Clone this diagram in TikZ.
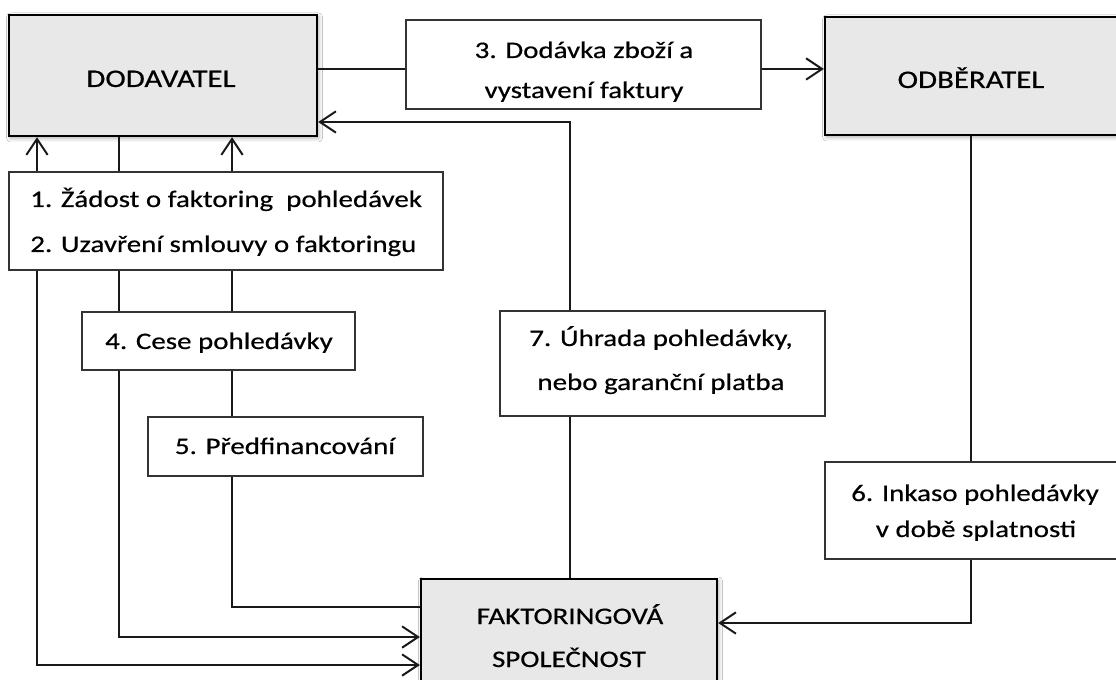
\documentclass[tikz,border=0pt]{standalone}
\usepackage{fontspec}
\setmainfont{Carlito}[FakeStretch=1.22,FakeBold=0.5]
\usetikzlibrary{arrows.meta,fit,shadows.blur}
\begin{document}
\begin{tikzpicture}[x=0.75pt,y=-0.75pt]
\tikzset{
  lbl/.style={draw=black!80, line width=1pt, fill=white, inner sep=0pt},
  party/.style={lbl, draw=black, fill=black!9, line width=1.7pt,
    blur shadow={shadow xshift=1.2pt, shadow yshift=-1.5pt, shadow blur radius=3pt, shadow opacity=35}},
  txt/.style={inner sep=0pt, anchor=base, font=\fontsize{17.8}{20}\selectfont},
  txtl/.style={txt, anchor=base west},
  head/.style={txt, font=\fontsize{19}{22}\selectfont},
  conn/.style={line width=1.5pt, draw=black!90},
  arr/.style={conn, -{Straight Barb[length=12pt,width=16pt]}},
}
\fill[white] (0,0) rectangle (1116,680);
\useasboundingbox (0,0) rectangle (1116,680);

% level coordinates
\coordinate (X37) at (37,0);
\coordinate (X119) at (119,0);
\coordinate (X232) at (232,0);
\coordinate (X570) at (570,0);
\coordinate (X971) at (971,0);
\coordinate (Y69) at (0,69);
\coordinate (Y122) at (0,122);
\coordinate (Y607) at (0,607);
\coordinate (Y623) at (0,623);
\coordinate (Y637) at (0,637);
\coordinate (Y665) at (0,665);

% boxes
\node[party, fit={(9,15) (317,136)}] (dod) {};
\node[party, fit={(825,17) (1121,135)}] (odb) {};
\node[party, fit={(421,579) (717,694)}] (fak) {};
\node[lbl, fit={(406,20) (761,109)}] (b3) {};
\node[lbl, fit={(9,172) (443,270)}] (b12) {};
\node[lbl, fit={(82,312) (355,370)}] (b4) {};
\node[lbl, fit={(148,417) (423,476)}] (b5) {};
\node[lbl, fit={(500,311) (825,416)}] (b7) {};
\node[lbl, fit={(825,462) (1121,559)}] (b6) {};

% texts
\node[head] (dodt) at (161,87) {DODAVATEL};
\node[head] (odbt) at (971,88) {ODBĚRATEL};
\node[txt] (fakt1) at (570,624) {FAKTORINGOVÁ};
\node[txt] (fakt2) at (569,667) {SPOLEČNOST};
\node[txt] (b3t1) at (584,58) {3. Dodávka zboží a};
\node[txt] (b3t2) at (584,98) {vystavení faktury};
\node[txtl] (b12t1) at (30,207) {1. Žádost o faktoring \ pohledávek};
\node[txtl] (b12t2) at (30,252) {2. Uzavření smlouvy o faktoringu};
\node[txt] (b4t) at (219,349) {4. Cese pohledávky};
\node[txt] (b5t) at (285,454) {5. Předfinancování};
\node[txt] (b7t1) at (661,346) {7. Úhrada pohledávky,};
\node[txt] (b7t2) at (661,390) {nebo garanční platba};
\node[txt] (b6t1) at (975,501) {6. Inkaso pohledávky};
\node[txt] (b6t2) at (976,537) {v době splatnosti};

% connectors
\draw[conn] (dod.east |- Y69) -- (b3.west |- Y69);
\draw[arr] (b3.east |- Y69) -- (odb.west |- Y69);
\draw[arr] (b7.north -| X570) |- (dod.east |- Y122);
\draw[arr] (b12.north -| X37) -- (dod.south -| X37);
\draw[arr] (b12.north -| X232) -- (dod.south -| X232);
\draw[conn] (dod.south -| X119) -- (b12.north -| X119);
\draw[arr] (b12.south -| X37) |- (fak.west |- Y665);
\draw[conn] (b12.south -| X119) -- (b4.north -| X119);
\draw[arr] (b4.south -| X119) |- (fak.west |- Y637);
\draw[conn] (b12.south -| X232) -- (b4.north -| X232);
\draw[conn] (b4.south -| X232) -- (b5.north -| X232);
\draw[conn] (b5.south -| X232) |- (fak.west |- Y607);
\draw[conn] (fak.north -| X570) -- (b7.south -| X570);
\draw[conn] (odb.south -| X971) -- (b6.north -| X971);
\draw[arr] (b6.south -| X971) |- (fak.east |- Y623);
\end{tikzpicture}
\end{document}
